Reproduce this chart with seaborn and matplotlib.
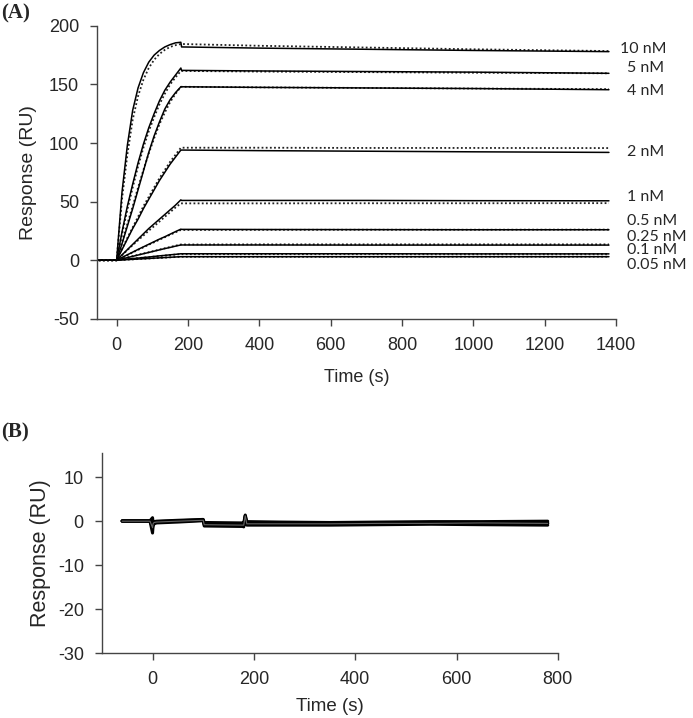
import numpy as np
import pandas as pd
import seaborn as sns
import matplotlib
matplotlib.use("Agg")
import matplotlib.pyplot as plt

# panel A: association (0-180 s) then dissociation
t_assoc = [-50, 0, 15, 30, 45, 60, 75, 90, 105, 120, 135, 150, 165, 180]
t_diss = [182, 400, 700, 1000, 1380]

conc_labels = ["10 nM", "5 nM", "4 nM", "2 nM", "1 nM", "0.5 nM", "0.25 nM", "0.1 nM", "0.05 nM"]

resp_10 = [0, 0, 58, 98, 128, 147, 160, 169, 175, 179, 182, 184, 185.5, 186, 182, 181, 180, 179, 178]
resp_5 = [0, 0, 24, 46, 65, 83, 99, 113, 125, 136, 145, 152, 158, 164, 162, 161.5, 161, 160.5, 159.5]
resp_4 = [0, 0, 14, 29, 44, 60, 76, 92, 106, 118, 129, 137, 143, 148, 148, 147.5, 147, 146.5, 145.5]
resp_2 = [0, 0, 9, 18, 27, 35, 44, 52, 60, 68, 75, 82, 88, 94, 94, 93.5, 93, 92.5, 92]
resp_1 = [0, 0, 4.5, 9, 13.5, 18, 22.5, 27, 31, 35, 39, 43, 47, 51.5, 51, 51, 51, 50.8, 50.7]
resp_05 = [0, 0, 2.3, 4.6, 6.9, 9.2, 11.4, 13.6, 15.8, 18, 20, 22.2, 24.4, 26.5, 26.3, 26.2, 26.1, 26, 26]
resp_025 = [0, 0, 1.1, 2.2, 3.3, 4.4, 5.5, 6.6, 7.7, 8.8, 9.9, 10.9, 12, 13, 13, 13, 12.9, 12.9, 12.9]
resp_01 = [0, 0, 0.5, 0.9, 1.4, 1.8, 2.3, 2.7, 3.2, 3.7, 4.1, 4.6, 5, 5.5, 5.5, 5.5, 5.5, 5.4, 5.4]
resp_005 = [0, 0, 0.25, 0.5, 0.75, 1, 1.25, 1.5, 1.75, 2, 2.25, 2.5, 2.75, 3, 3, 3, 3, 3, 3]

fit_10 = [0, 0, 52, 90, 120, 140, 154, 164, 171, 176, 179.5, 182, 183.5, 184.5, 184.5, 183, 181.5, 180, 178.5]
fit_5 = [0, 0, 22, 43, 62, 80, 96, 110, 122, 133, 142, 150, 156, 161.5, 161.5, 161, 160.5, 160, 159.5]
fit_4 = [0, 0, 15, 31, 46, 62, 77, 91, 104, 116, 126, 135, 142, 148, 148, 147.5, 147, 146.5, 146]
fit_2 = [0, 0, 9.5, 19, 28, 37, 46, 54, 62, 70, 77, 84, 90, 96, 96, 96, 95.8, 95.8, 95.7]
fit_1 = [0, 0, 4.3, 8.6, 12.9, 17, 21, 25.2, 29, 33, 37, 41, 45, 48.5, 48.5, 48.5, 48.6, 48.6, 48.7]
fit_05 = [0, 0, 2.2, 4.4, 6.6, 8.8, 11, 13.2, 15.3, 17.5, 19.6, 21.7, 23.8, 25.8, 25.8, 25.9, 26, 26, 26.1]
fit_025 = [0, 0, 1.2, 2.3, 3.5, 4.6, 5.7, 6.8, 7.9, 9.1, 10.2, 11.3, 12.4, 13.4, 13.4, 13.5, 13.5, 13.5, 13.5]
fit_01 = [0, 0, 0.4, 0.9, 1.3, 1.8, 2.2, 2.6, 3.1, 3.5, 4, 4.4, 4.8, 5.2, 5.2, 5.2, 5.3, 5.3, 5.3]
fit_005 = [0, 0, 0.2, 0.5, 0.7, 1, 1.2, 1.4, 1.7, 1.9, 2.2, 2.4, 2.7, 2.9, 2.9, 2.9, 2.9, 3, 3]

label_y = [180.2, 163.9, 144.8, 92.7, 54.3, 33.1, 20.2, 8.9, -3.9]

# panel B: reference channel traces
t_ref = [-60, -5, 0, 1, 3, 8, 50, 100, 102, 178, 180, 183, 186, 250, 350, 450, 550, 650, 780]
ref_1 = [0.1, 0.1, 0.8, -0.2, -0.1, 0.0, 0.2, 0.4, -0.3, -0.4, -0.4, 1.4, -0.1, -0.2, -0.3, -0.2, -0.1, -0.1, 0.0]
ref_2 = [0.0, 0.0, -2.7, -1.2, -0.6, -0.4, -0.2, 0.1, -1.1, -1.2, -1.3, 0.9, -0.9, -0.9, -0.9, -0.8, -0.7, -0.8, -0.9]
ref_3 = [0.0, 0.0, -1.5, -0.6, -0.3, -0.2, 0.0, 0.2, -0.8, -0.9, -0.9, 1.2, -0.6, -0.6, -0.6, -0.5, -0.5, -0.4, -0.5]
ref_4 = [0.05, 0.05, 0.3, -0.4, -0.2, -0.1, 0.1, 0.3, -0.5, -0.6, -0.7, 0.6, -0.4, -0.4, -0.5, -0.4, -0.3, -0.3, -0.4]

sns.set_style("ticks")
plt.rcParams['font.family'] = ['Liberation Sans', 'DejaVu Sans']
plt.rcParams['axes.unicode_minus'] = False

fig = plt.figure(figsize=(6.93, 7.18), dpi=100)
axA = fig.add_axes([0.140, 0.556, 0.749, 0.408])
axB = fig.add_axes([0.147, 0.0905, 0.658, 0.2785])

t_all = t_assoc + t_diss
resp = [resp_10, resp_5, resp_4, resp_2, resp_1, resp_05, resp_025, resp_01, resp_005]
fits = [fit_10, fit_5, fit_4, fit_2, fit_1, fit_05, fit_025, fit_01, fit_005]

for r, f in zip(resp, fits):
    sns.lineplot(x=t_all, y=f, ax=axA, color="#222222", lw=1.3, linestyle=(0, (1, 1.3)), sort=False)
    sns.lineplot(x=t_all, y=r, ax=axA, color="black", lw=1.1, sort=False)

for lab, y in zip(conc_labels, label_y):
    xpos = 1410 if lab == "10 nM" else 1432
    axA.text(xpos, y, lab, fontsize=11.5, family=['Lato', 'DejaVu Sans'],
             va='center', ha='left', clip_on=False)

axA.set_xlim(-55, 1400)
axA.set_ylim(-50, 200)
axA.set_xticks(range(0, 1401, 200))
axA.set_yticks(range(-50, 201, 50))
axA.set_xlabel("Time (s)", fontsize=13)
axA.set_ylabel("Response (RU)", fontsize=14)
axA.xaxis.set_label_coords(0.5, -0.17)
axA.yaxis.set_label_coords(-0.116, 0.5)

refs = pd.DataFrame({"t": t_ref * 4,
                     "RU": ref_1 + ref_2 + ref_3 + ref_4,
                     "trace": np.repeat([1, 2, 3, 4], len(t_ref))})
sns.lineplot(data=refs, x="t", y="RU", units="trace", estimator=None, ax=axB,
             color="black", lw=2.2, sort=False)
sns.lineplot(x=t_ref, y=ref_3, ax=axB, color="#666666", lw=0.8, sort=False)

axB.set_xlim(-100, 800)
axB.set_ylim(-30, 15.5)
axB.set_xticks(range(0, 801, 200))
axB.set_yticks([10, 0, -10, -20, -30])
axB.set_xlabel("Time (s)", fontsize=13.5)
axB.set_ylabel("Response (RU)", fontsize=15.5)
axB.xaxis.set_label_coords(0.5, -0.225)
axB.yaxis.set_label_coords(-0.112, 0.5)

for ax in (axA, axB):
    sns.despine(ax=ax)
    for s in ("left", "bottom"):
        ax.spines[s].set_color("#444444")
        ax.spines[s].set_linewidth(1.0)
    ax.tick_params(labelsize=13, length=5, width=1, color="#444444", pad=8)

fig.text(0.002, 0.981, "(A)", fontsize=15, fontweight="bold",
         family=['Liberation Serif', 'DejaVu Serif'], va='center', ha='left')
fig.text(0.002, 0.397, "(B)", fontsize=15, fontweight="bold",
         family=['Liberation Serif', 'DejaVu Serif'], va='center', ha='left')

fig.savefig("out.png", dpi=100)
